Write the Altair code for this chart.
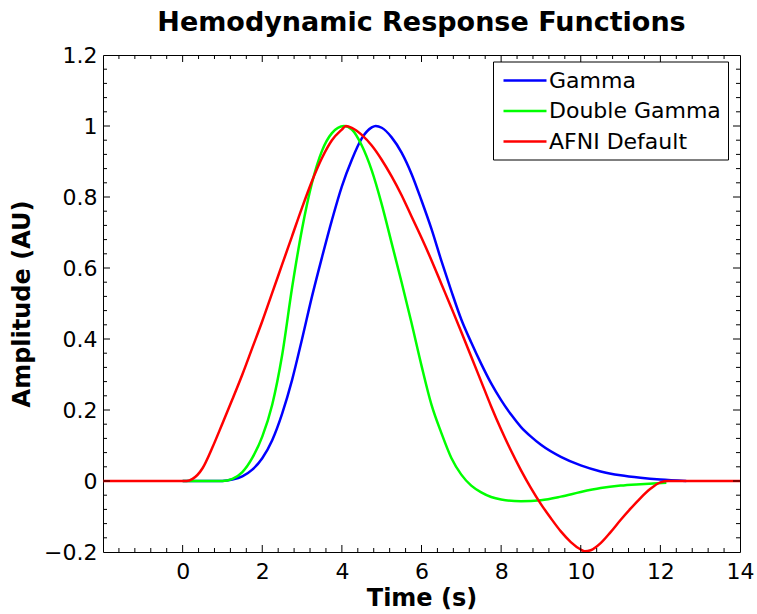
import altair as alt
import pandas as pd

# ---- data ----
series_names = ["Gamma", "Double Gamma", "AFNI Default"]
series_colors = ["#0000ff", "#00ff00", "#ff0000"]

gamma_t = [0.0, 1.0, 1.25, 1.5, 1.75, 2.0, 2.25, 2.5, 2.75, 3.0, 3.25, 3.5, 3.75,
           4.0, 4.25, 4.5, 4.75, 4.85, 5.0, 5.25, 5.5, 5.75, 6.0, 6.25, 6.5, 6.75,
           7.0, 7.25, 7.5, 7.75, 8.0, 8.25, 8.5, 8.75, 9.0, 9.5, 10.0, 10.5,
           11.0, 11.5, 12.0, 12.65]
gamma_y = [0.0, 0.0, 0.004, 0.013, 0.032, 0.064, 0.115, 0.19, 0.285, 0.40, 0.52, 0.63, 0.735,
           0.83, 0.905, 0.965, 0.996, 1.0, 0.995, 0.968, 0.925, 0.865, 0.79, 0.71, 0.62, 0.535,
           0.455, 0.39, 0.33, 0.275, 0.228, 0.187, 0.152, 0.125, 0.102, 0.068, 0.044, 0.027,
           0.016, 0.009, 0.004, 0.0]

dgamma_t = [0.0, 1.0, 1.25, 1.5, 1.75, 2.0, 2.25, 2.5, 2.75, 3.0, 3.25, 3.5, 3.75,
            4.05, 4.25, 4.5, 4.75, 5.0, 5.25, 5.5, 5.75, 6.0, 6.25, 6.5, 6.75,
            7.0, 7.25, 7.5, 7.75, 8.0, 8.5, 9.0, 9.5, 10.0, 10.5, 11.0, 11.5, 12.15]
dgamma_y = [0.0, 0.0, 0.006, 0.025, 0.065, 0.125, 0.215, 0.355, 0.545, 0.71, 0.84, 0.93, 0.98,
            1.0, 0.99, 0.945, 0.875, 0.78, 0.67, 0.56, 0.445, 0.325, 0.215, 0.135, 0.065,
            0.018, -0.013, -0.032, -0.045, -0.052, -0.057, -0.054, -0.044, -0.031, -0.02, -0.013,
            -0.009, -0.005]

afni_t = [-2.0, 0.0, 0.1, 0.25, 0.5, 0.75, 1.0, 1.25, 1.5, 1.75, 2.0, 2.25, 2.5,
          2.75, 3.0, 3.25, 3.5, 3.75, 4.0, 4.1, 4.25, 4.5, 4.75, 5.0, 5.25, 5.5,
          5.75, 6.0, 6.25, 6.5, 6.75, 7.0, 7.25, 7.5, 7.75, 8.0, 8.25, 8.5,
          8.75, 9.0, 9.25, 9.5, 9.75, 10.0, 10.1, 10.25, 10.5, 10.75, 11.0, 11.25,
          11.5, 11.75, 12.0, 12.2, 14.0]
afni_y = [0.0, 0.0, 0.0, 0.006, 0.036, 0.095, 0.162, 0.23, 0.30, 0.375, 0.45, 0.53, 0.61,
          0.69, 0.77, 0.845, 0.91, 0.96, 0.99, 1.0, 0.995, 0.975, 0.945, 0.905, 0.858, 0.805,
          0.745, 0.685, 0.622, 0.555, 0.488, 0.42, 0.35, 0.28, 0.21, 0.145, 0.085, 0.03,
          -0.02, -0.065, -0.105, -0.142, -0.172, -0.193, -0.198, -0.195, -0.175, -0.144, -0.11, -0.078,
          -0.048, -0.022, -0.004, 0.0, 0.0]

x_major_ticks = [0, 2, 4, 6, 8, 10, 12]
x_label_values = [0, 2, 4, 6, 8, 10, 12, 14]
x_minor_ticks = [-1.6, -1.2, -0.8, -0.4, 0.4, 0.8, 1.2, 1.6, 2.4, 2.8, 3.2, 3.6,
                 4.4, 4.8, 5.2, 5.6, 6.4, 6.8, 7.2, 7.6, 8.4, 8.8, 9.2, 9.6,
                 10.4, 10.8, 11.2, 11.6, 12.4, 12.8, 13.2, 13.6]
y_major_ticks = [0, 0.2, 0.4, 0.6, 0.8, 1.0]
y_label_values = [-0.2, 0, 0.2, 0.4, 0.6, 0.8, 1.0, 1.2]
y_minor_ticks = [-0.16, -0.12, -0.08, -0.04, 0.04, 0.08, 0.12, 0.16,
                 0.24, 0.28, 0.32, 0.36, 0.44, 0.48, 0.52, 0.56,
                 0.64, 0.68, 0.72, 0.76, 0.84, 0.88, 0.92, 0.96,
                 1.04, 1.08, 1.12, 1.16]

rows = []
for name, ts, ys in [("Gamma", gamma_t, gamma_y),
                     ("Double Gamma", dgamma_t, dgamma_y),
                     ("AFNI Default", afni_t, afni_y)]:
    for i, (t, y) in enumerate(zip(ts, ys)):
        rows.append({"series": name, "t": t, "amp": y, "i": i})
df = pd.DataFrame(rows)

FONT = "DejaVu Sans"
W, H = 637, 497
MAJ, MIN = 7, 4

xscale = alt.Scale(domain=[-2, 14], nice=False, zero=False)
yscale = alt.Scale(domain=[-0.2, 1.2], nice=False, zero=False)

x_axis = alt.Axis(values=x_label_values, ticks=False, domain=False, grid=False,
                  labelFont=FONT, labelFontSize=22, labelColor="black", labelPadding=9,
                  title="Time (s)", titleFont=FONT, titleFontSize=24, titleFontWeight="bold",
                  titleColor="black", titlePadding=4, labelFlush=False)
y_axis = alt.Axis(values=y_label_values, ticks=False, domain=False, grid=False, format="~g",
                  labelFont=FONT, labelFontSize=22, labelColor="black", labelPadding=6,
                  title="Amplitude (AU)", titleFont=FONT, titleFontSize=24, titleFontWeight="bold",
                  titleColor="black", titlePadding=9, labelFlush=False)

color = alt.Color("series:N",
                  scale=alt.Scale(domain=series_names, range=series_colors),
                  sort=series_names,
                  legend=alt.Legend(title=None, orient="none", legendX=390, legendY=6.5,
                                    symbolType="M-2,0H2", symbolSize=462, symbolStrokeWidth=2.5,
                                    symbolOffset=13,
                                    labelFont=FONT, labelFontSize=22, labelColor="black",
                                    labelLimit=400, labelOffset=12,
                                    strokeColor="black", fillColor="white",
                                    padding=7, rowPadding=7.5, symbolOpacity=1))

layers = []
for name in series_names:
    layers.append(
        alt.Chart(df).transform_filter(alt.datum.series == name)
        .mark_line(strokeWidth=2.5, interpolate="monotone", clip=True)
        .encode(x=alt.X("t:Q", scale=xscale, axis=x_axis),
                y=alt.Y("amp:Q", scale=yscale, axis=y_axis),
                color=color, order="i:Q")
    )


def vticks(vals, y0, y1):
    return alt.Chart(pd.DataFrame({"v": vals})).mark_rule(color="black", strokeWidth=1).encode(
        x=alt.X("v:Q", scale=xscale, axis=x_axis), y=alt.value(y0), y2=alt.value(y1))


def hticks(vals, x0, x1):
    return alt.Chart(pd.DataFrame({"v": vals})).mark_rule(color="black", strokeWidth=1).encode(
        y=alt.Y("v:Q", scale=yscale, axis=y_axis), x=alt.value(x0), x2=alt.value(x1))


tick_layers = [
    vticks(x_major_ticks, H, H - MAJ), vticks(x_minor_ticks, H, H - MIN),
    vticks(x_major_ticks, 0, MAJ), vticks(x_minor_ticks, 0, MIN),
    hticks(y_major_ticks, 0, MAJ), hticks(y_minor_ticks, 0, MIN),
    hticks(y_major_ticks, W, W - MAJ), hticks(y_minor_ticks, W, W - MIN),
]

chart = alt.layer(*layers, *tick_layers).properties(
    width=W, height=H,
    padding={"left": 103, "top": 55, "right": 17, "bottom": 62},
    autosize=alt.AutoSizeParams(type="none"),
    title=alt.TitleParams("Hemodynamic Response Functions", font=FONT, fontSize=27,
                          fontWeight="bold", color="black", anchor="middle", offset=7),
    background="white",
).configure_view(stroke="black", strokeWidth=1)

chart.save("out.html", embed_options={"renderer": "svg", "actions": False})
